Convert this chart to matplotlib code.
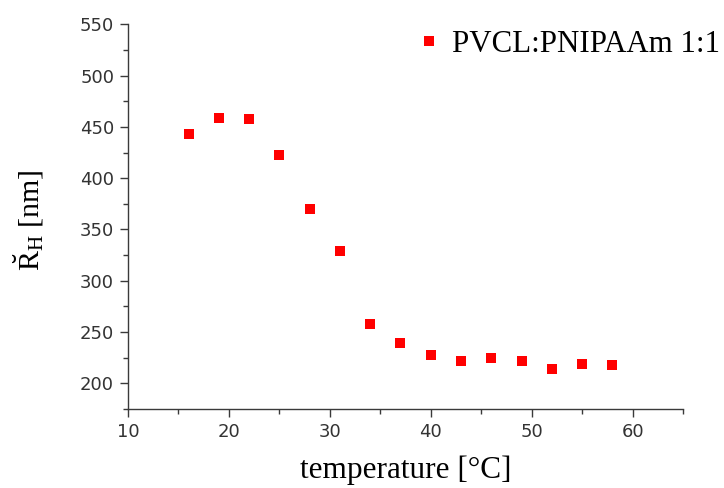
#!/usr/bin/env python3
"""
Hydrodynamic radius vs temperature for PVCL:PNIPAAm 1:1 (DLS).
"""
import matplotlib
matplotlib.use("Agg")
import matplotlib.pyplot as plt
from matplotlib.ticker import MultipleLocator


# ---------------------------------------------------------------------------
# Data
# ---------------------------------------------------------------------------
temperature = [16, 19, 22, 25, 28, 31, 34, 37, 40, 43, 46, 49, 52, 55, 58]
radius_nm = [443.4, 459.0, 458.0, 422.3, 370.3, 329.3, 258.2, 239.0,
             227.7, 222.1, 225.0, 222.0, 214.3, 218.9, 217.6]
series_label = "PVCL:PNIPAAm 1:1"

x_ticks = [10, 20, 30, 40, 50, 60]
y_ticks = [200, 250, 300, 350, 400, 450, 500, 550]

SERIF = "Liberation Serif"
AXIS_GREY = "#3a3a3a"

plt.rcParams["mathtext.fontset"] = "custom"
plt.rcParams["mathtext.rm"] = SERIF
plt.rcParams["mathtext.it"] = SERIF + ":italic"


def main():
    fig = plt.figure(figsize=(7.24, 4.88), dpi=100)
    ax = fig.add_axes([0.1768, 0.1619, 0.7666, 0.7883])

    ax.plot(temperature, radius_nm, "s", color="#ff0000", markersize=7.8,
            markeredgewidth=0, linestyle="none", label=series_label)

    ax.set_xlim(10, 65)
    ax.set_ylim(175, 550)
    ax.set_xticks(x_ticks)
    ax.set_yticks(y_ticks)
    ax.xaxis.set_minor_locator(MultipleLocator(5))
    ax.yaxis.set_minor_locator(MultipleLocator(25))

    for side in ("top", "right"):
        ax.spines[side].set_visible(False)
    for side in ("left", "bottom"):
        ax.spines[side].set_color(AXIS_GREY)
        ax.spines[side].set_linewidth(1.0)

    ax.tick_params(which="major", direction="out", length=6, width=1.0,
                   color=AXIS_GREY, labelcolor="#333333", labelsize=13, pad=4)
    ax.tick_params(which="minor", direction="out", length=3.5, width=1.0,
                   color=AXIS_GREY)
    for lab in ax.get_xticklabels() + ax.get_yticklabels():
        lab.set_fontfamily("DejaVu Sans")

    ax.set_xlabel("temperature [°C]", fontfamily=SERIF, fontsize=22.5)
    ax.xaxis.set_label_coords(0.5, -0.122)
    ax.set_ylabel(r"$\breve{\mathrm{R}}_{\mathrm{H}}$ [nm]",
                  fontfamily=SERIF, fontsize=21.5)
    ax.yaxis.set_label_coords(-0.148, 0.49)

    # legend in the upper right, text running up to the figure edge
    fig.legend(loc="center left", bbox_to_anchor=(421 / 724, 1 - 44 / 488),
               frameon=False, borderpad=0, borderaxespad=0,
               handlelength=0.5, handletextpad=0.5,
               prop={"family": SERIF, "size": 22.2})

    fig.savefig("out.png", dpi=100)
    plt.close(fig)


if __name__ == "__main__":
    main()
